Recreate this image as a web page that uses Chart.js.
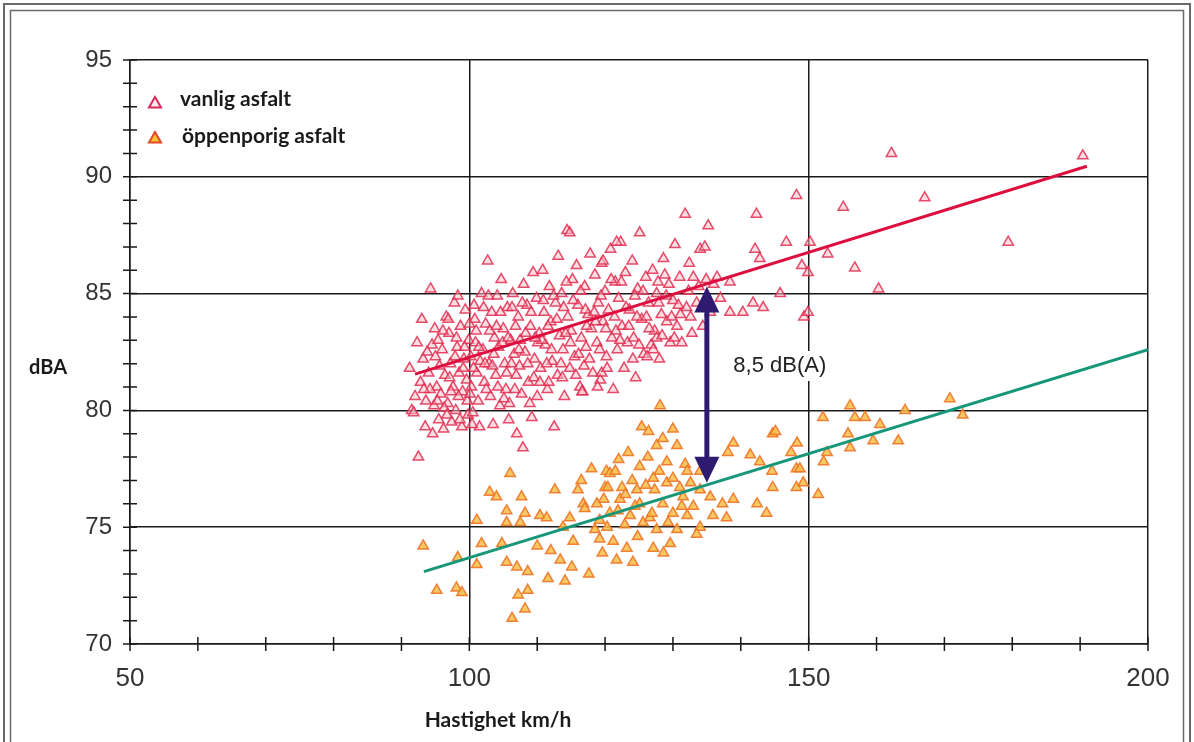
<!DOCTYPE html>
<html>
<head>
<meta charset="utf-8">
<script src="https://cdn.jsdelivr.net/npm/chart.js@4.4.1/dist/chart.umd.min.js"></script>
<style>
  html, body { margin: 0; padding: 0; background: #fff; }
</style>
</head>
<body>
<canvas id="myChart" width="1194" height="742"></canvas>
<script>
// axis ranges
var xRange = [50, 200]
var yRange = [70, 95]

// vanlig asfalt: [km/h, dBA]
var vanlig = [
  [91.2,81.8],[91.5,80.0],[91.8,79.9],[92.0,80.6],[92.5,78.0],[92.8,81.2],[93.0,83.9],[93.2,82.2],[93.5,79.3],[93.6,80.4],
  [94.0,81.6],[94.3,85.2],[94.5,82.8],[94.6,79.0],[94.8,80.2],[95.0,82.3],[95.2,81.0],[95.4,83.0],[95.5,79.6],[95.8,80.7],
  [96.0,82.6],[96.2,79.2],[96.4,81.5],[96.6,84.0],[96.8,80.3],[97.0,83.3],[97.2,82.0],[97.4,79.5],[97.6,81.0],[97.8,84.6],
  [98.0,80.0],[98.2,82.7],[98.3,84.9],[98.5,81.6],[98.7,83.6],[98.9,79.3],[99.0,80.8],[99.2,82.2],[99.4,84.3],[99.6,81.3],
  [99.8,79.8],[99.9,83.0],[93.8,82.5],[95.6,81.9],[96.3,80.1],[97.1,81.4],[97.9,82.3],[98.4,80.6],[99.1,81.8],[99.7,80.4],
  [94.2,80.9],[96.9,83.9],
  [100.0,83.7],[100.2,82.3],[100.3,81.0],[100.5,79.9],[100.7,84.5],[100.9,82.9],[101.1,81.6],[101.3,80.4],[101.5,79.3],[101.8,85.0],
  [102.0,82.6],[102.2,81.2],[102.4,83.7],[102.7,86.4],[102.9,82.0],[103.1,80.6],[103.3,84.2],[103.5,79.4],[103.7,83.1],[103.9,81.5],
  [104.1,84.9],[104.3,82.7],[104.5,80.2],[104.7,85.6],[105.0,83.5],[105.2,82.0],[105.4,80.9],[105.6,84.4],[105.9,80.3],[106.1,83.0],
  [106.4,85.0],[106.6,82.4],[106.9,81.5],[107.0,79.0],[107.2,84.0],[107.5,83.0],[107.7,80.7],[107.9,78.4],[108.0,85.4],[108.2,82.5],
  [108.5,84.5],[108.7,81.2],[109.0,83.6],[109.2,79.7],[109.4,85.9],[109.6,82.2],[109.9,84.8],[110.0,80.6],
  [100.6,81.8],[101.0,83.4],[101.6,82.1],[102.5,80.9],[103.0,83.4],[103.6,82.4],[104.2,81.0],[104.9,82.9],[105.5,81.6],[106.2,82.0],
  [106.8,83.6],[107.4,81.9],[108.3,83.3],[108.9,80.3],[109.5,81.4],[110.1,82.9],[105.8,79.6],[102.1,84.4],
  [110.3,83.3],[110.5,81.8],[110.8,86.0],[111.0,84.2],[111.2,82.8],[111.5,80.9],[111.8,85.3],[112.0,83.8],[112.2,82.1],[112.5,79.3],
  [112.7,84.6],[113.0,81.5],[113.1,86.6],[113.3,83.2],[113.6,85.0],[113.8,82.6],[114.0,80.6],[114.4,87.7],[114.5,84.0],[114.8,81.8],
  [115.0,83.4],[115.2,85.6],[115.5,82.3],[115.8,86.2],[116.0,84.5],[116.3,81.0],[116.5,83.1],[116.7,80.8],[117.0,85.3],[117.2,82.7],
  [117.5,84.1],[117.8,86.7],[118.0,83.5],[118.2,81.6],[118.5,85.8],[118.8,82.9],[119.0,84.6],[119.3,81.3],[119.5,86.3],[119.7,83.8],
  [120.0,85.1],[120.2,82.3],
  [110.7,83.0],[111.4,82.0],[112.4,84.9],[113.5,82.0],[114.2,83.3],[115.3,84.7],[116.1,82.4],[117.3,83.6],[118.4,84.2],[119.2,82.6],
  [120.1,83.5],[111.7,81.2],[113.9,84.4],[116.9,81.9],[118.9,81.0],
  [120.5,84.3],[120.8,86.9],[121.0,83.1],[121.2,80.9],[121.5,85.5],[121.8,82.6],[122.0,84.8],[122.3,87.2],[122.5,83.6],[122.8,81.8],
  [123.0,85.9],[123.3,82.9],[123.6,84.3],[124.0,86.4],[124.2,83.1],[124.5,81.4],[124.8,85.2],[125.1,87.6],[125.4,83.9],[125.7,82.4],
  [126.0,85.7],[126.2,82.3],[126.4,84.6],[126.8,82.8],[127.0,86.0],[127.3,83.4],[127.6,85.0],[127.6,83.1],[128.0,82.2],[128.3,84.1],
  [128.6,86.5],[128.8,85.8],[129.1,83.8],[129.4,85.4],[129.6,82.9],[130.0,84.7],[130.3,87.1],[130.6,83.6],[131.0,85.7],[131.3,82.9],
  [131.8,88.4],[132.0,84.4],[132.4,86.3],[132.8,83.3],[133.0,85.7],[133.5,84.6],[134.0,86.9],[134.4,83.6],[134.7,87.0],[135.2,87.9],
  [135.5,84.2],[136.0,85.4],[136.5,85.7],[137.0,84.8],
  [121.4,84.0],[122.2,83.0],[123.1,84.4],[124.4,84.9],[125.0,82.8],[126.5,83.5],[127.9,84.6],[129.8,84.0],[130.8,84.5],[132.3,85.1],
  [121.7,87.2],[119.7,86.4],[114.8,87.6],[116.6,80.8],[119.5,81.6],
  [95.3,80.4],[96.1,83.4],[97.3,80.8],[98.1,83.1],[99.3,82.7],[100.1,80.7],[100.8,83.9],[101.4,82.7],[102.3,82.0],[102.8,84.9],
  [103.4,81.9],[104.0,83.6],[104.6,84.2],[105.1,80.5],[105.7,83.1],[106.3,84.4],[106.7,80.9],[107.3,82.6],[107.8,84.6],[108.6,82.0],
  [109.1,84.2],[109.7,83.1],[110.4,81.2],[110.9,84.7],[111.6,83.6],[112.1,82.6],[112.9,83.9],[113.7,81.4],[114.3,85.5],[114.9,82.9],
  [115.7,81.5],[116.4,85.1],[117.1,84.3],[117.7,82.2],[118.6,83.8],[119.4,84.9],[120.3,81.8],[120.9,85.6],[121.6,83.4],[122.4,85.5],
  [123.5,83.6],[124.1,82.2],[124.7,84.0],[125.6,85.1],[126.1,84.0],[127.1,82.6],[127.8,85.5],[128.4,83.2],[129.0,84.9],[130.2,83.1],
  [131.1,84.1],[132.6,84.0],[133.8,85.3],[134.9,85.6],[92.3,82.9],[93.3,80.9],[94.9,83.5],[96.7,79.8],[98.6,79.6],[100.4,79.4],
  [138.4,84.2],[138.4,85.5],[140.3,84.2],[141.8,84.6],[142.1,86.9],[142.3,88.4],[142.8,86.5],[143.3,84.4],[145.8,85.0],[146.7,87.2],
  [148.2,89.2],[149.0,86.2],[149.3,84.0],[149.9,84.2],[149.9,85.9],[150.2,87.2],[152.8,86.7],[155.1,88.7],[156.8,86.1],[160.3,85.2],
  [162.2,91.0],[167.1,89.1],[179.4,87.2],[190.4,90.9]
]

// öppenporig asfalt: [km/h, dBA]
var oppenporig = [
  [93.2,74.2],[95.2,72.3],[98.1,72.4],[98.9,72.2],[98.3,73.7],[101.1,75.3],[101.8,74.3],[101.1,73.4],[103.0,76.5],[104.0,76.3],
  [104.8,74.3],[105.5,75.7],[105.5,75.2],[105.5,73.5],[106.0,77.3],[106.3,71.1],[107.0,73.3],[107.2,72.1],[107.5,75.2],[107.7,76.3],
  [108.2,75.6],[108.2,71.5],[108.6,73.1],[108.6,72.3],[110.0,74.2],[110.4,75.5],[111.4,75.4],[111.6,72.8],[112.6,76.6],[113.4,73.6],
  [114.1,72.7],[114.8,75.4],[115.1,73.3],[115.3,74.4],[116.0,76.6],[116.5,77.0],[116.8,76.0],[118.0,77.5],[118.8,76.0],[119.2,75.3],
  [119.2,74.5],[120.0,76.7],[120.2,77.4],[120.3,75.0],[120.4,76.7],[120.7,77.3],[120.7,75.6],[121.2,74.4],[121.5,77.4],[121.7,73.6],
  [122.2,76.2],[122.5,76.7],[122.9,75.1],[123.4,78.2],[123.7,75.5],[124.0,77.0],[124.1,73.5],[124.7,76.6],[124.8,74.6],[125.1,77.6],
  [125.1,76.0],[125.4,79.3],[125.6,75.2],[126.4,79.1],[126.6,75.4],[127.1,77.1],[127.1,74.1],[127.3,76.6],[127.6,78.5],[127.6,74.9],
  [128.1,80.2],[128.5,78.8],[128.5,76.0],[128.6,73.9],[129.1,77.8],[129.1,76.9],[129.6,74.3],[130.0,79.2],[130.0,77.1],[130.0,75.6],
  [130.6,78.5],[130.6,74.9],[131.0,76.7],[131.5,76.3],[131.8,77.7],[132.1,77.4],[132.1,75.5],[133.0,75.9],[134.0,77.4],[134.0,76.6],
  [134.0,75.0],[135.5,76.3],[135.9,75.5],[137.3,76.0],[137.9,75.4],[138.1,78.2],[138.9,78.6],[138.9,76.2],[141.4,78.1],[142.4,76.0],
  [142.8,77.8],[143.8,75.6],[144.6,77.4],[144.7,76.7],[144.7,79.0],[145.1,79.1],[147.4,78.2],[148.3,78.6],[148.2,77.5],[148.2,76.7],
  [148.7,77.5],[149.2,76.9],[151.4,76.4],[152.1,79.7],[152.2,77.8],[152.7,78.2],[155.8,79.0],[156.1,80.2],[156.1,78.4],[156.8,79.7],
  [158.3,79.7],[159.5,78.7],[160.5,79.4],[163.2,78.7],[164.2,80.0],[170.8,80.5],[172.7,79.8],
  [117.0,75.8],[118.5,74.9],[119.8,76.2],[121.9,75.7],[123.0,76.4],[124.4,75.9],[126.0,76.8],[126.9,75.6],[128.0,77.4],[129.3,75.2],
  [131.3,75.9],[132.6,76.9],[133.5,74.7],[123.2,74.1],[122.0,77.9],[126.3,78.0],[117.6,73.0],[119.6,73.9],[113.8,75.0],[112.0,74.0]
]

// regression lines (end points)
var vanligFitKmh = [92.0, 191.0]
var vanligFitDb = [81.55, 90.45]
var oppenFitKmh = [93.3, 200.0]
var oppenFitDb = [73.1, 82.6]

// difference arrow + its label
var arrowKmh = 135
var arrowDb = [85.3, 76.9]
var arrowText = '8,5 dB(A)'
var arrowTextPos = [138.9, 81.9]

function toPoints(list){
  var out = []
  for (let i = 0; i < list.length; i++){
    out.push({x: list[i][0], y: list[i][1]})
  }
  return out
}
function fitPoints(xs, ys){
  return [{x: xs[0], y: ys[0]}, {x: xs[1], y: ys[1]}]
}

function triangle(c, x, y, r){
  c.beginPath()
  c.moveTo(x, y - r)
  c.lineTo(x + r * 0.866, y + r * 0.5)
  c.lineTo(x - r * 0.866, y + r * 0.5)
  c.closePath()
}

// frame, axis ticks, titles, legend, arrow
const decor = {
  id: 'decor',
  beforeDraw(chart){
    const c = chart.ctx
    c.save()
    c.fillStyle = '#fff'
    c.fillRect(0, 0, chart.width, chart.height)
    c.strokeStyle = '#6a6a6a'
    c.lineWidth = 2
    c.strokeRect(4, 4, 1186, 760)
    c.lineWidth = 1.5
    c.strokeRect(10.5, 10.5, 1173, 760)
    c.restore()
  },
  afterDatasetsDraw(chart){
    const c = chart.ctx
    const xs = chart.scales.x, ys = chart.scales.y
    const x = xs.getPixelForValue(arrowKmh)
    const y1 = ys.getPixelForValue(arrowDb[0])
    const y2 = ys.getPixelForValue(arrowDb[1])
    c.save()
    // label with white box (it breaks the gridline)
    c.font = '22px "Liberation Sans", Arial, sans-serif'
    c.textBaseline = 'middle'
    c.textAlign = 'left'
    const tx = xs.getPixelForValue(arrowTextPos[0]), ty = ys.getPixelForValue(arrowTextPos[1])
    const w = c.measureText(arrowText).width
    c.fillStyle = '#fff'
    c.fillRect(tx - 2, ty - 15, w + 4, 30)
    c.fillStyle = '#222'
    c.fillText(arrowText, tx, ty)
    // arrow
    c.strokeStyle = '#2e1a6e'
    c.fillStyle = '#2e1a6e'
    c.lineWidth = 5
    c.beginPath()
    c.moveTo(x, y1 + 20)
    c.lineTo(x, y2 - 20)
    c.stroke()
    c.beginPath()
    c.moveTo(x, y1); c.lineTo(x - 12.5, y1 + 26); c.lineTo(x + 12.5, y1 + 26)
    c.closePath(); c.fill()
    c.beginPath()
    c.moveTo(x, y2); c.lineTo(x - 12.5, y2 - 26); c.lineTo(x + 12.5, y2 - 26)
    c.closePath(); c.fill()
    c.restore()
  },
  afterDraw(chart){
    const c = chart.ctx
    const xs = chart.scales.x, ys = chart.scales.y
    const area = chart.chartArea
    c.save()
    // tick marks crossing the axes
    c.strokeStyle = '#1a1a1a'
    c.lineWidth = 1.5
    c.beginPath()
    for (let v = xRange[0]; v <= xRange[1]; v += 10){
      const px = xs.getPixelForValue(v)
      c.moveTo(px, area.bottom - 7)
      c.lineTo(px, area.bottom + 7)
    }
    for (let v = yRange[0]; v <= yRange[1]; v += 1){
      const py = ys.getPixelForValue(v)
      c.moveTo(area.left - 7, py)
      c.lineTo(area.left + 7, py)
    }
    c.stroke()
    // axis titles
    c.fillStyle = '#1a1a1a'
    c.font = 'bold 20px Lato, "Open Sans", sans-serif'
    c.textBaseline = 'middle'
    c.textAlign = 'left'
    c.fillText('dBA', 29, 368)
    c.font = 'bold 21px Lato, "Open Sans", sans-serif'
    c.textAlign = 'center'
    c.fillText('Hastighet km/h', 498, 720)
    // legend
    c.lineWidth = 2
    triangle(c, 155, 104, 7)
    c.fillStyle = '#ffe9ee'
    c.fill()
    c.strokeStyle = '#d82a58'
    c.stroke()
    triangle(c, 155, 139, 7)
    c.fillStyle = '#f6c230'
    c.fill()
    c.strokeStyle = '#e2492a'
    c.stroke()
    c.fillStyle = '#1a1a1a'
    c.font = 'bold 21px Lato, "Open Sans", sans-serif'
    c.textAlign = 'left'
    c.fillText('vanlig asfalt', 180, 99)
    c.fillText('öppenporig asfalt', 182, 136)
    c.restore()
  }
}

const ctx = document.getElementById('myChart')
new Chart(ctx, {
  type: 'scatter',
  data: {
    datasets: [
      {
        label: 'vanlig asfalt',
        data: toPoints(vanlig),
        pointStyle: 'triangle',
        pointRadius: 6,
        borderWidth: 1.5,
        borderColor: 'rgba(225,45,80,0.85)',
        backgroundColor: 'rgba(250,190,200,0.5)',
        order: 4
      },
      {
        label: 'öppenporig asfalt',
        data: toPoints(oppenporig),
        pointStyle: 'triangle',
        pointRadius: 6,
        borderWidth: 1.5,
        borderColor: 'rgba(236,118,40,0.9)',
        backgroundColor: 'rgba(248,190,70,0.85)',
        order: 3
      },
      {
        type: 'line',
        data: fitPoints(vanligFitKmh, vanligFitDb),
        borderColor: '#dc0f3f',
        borderWidth: 3,
        pointRadius: 0,
        order: 2
      },
      {
        type: 'line',
        data: fitPoints(oppenFitKmh, oppenFitDb),
        borderColor: '#17977a',
        borderWidth: 3,
        pointRadius: 0,
        order: 1
      }
    ]
  },
  options: {
    responsive: false,
    animation: false,
    layout: { padding: { left: 0, top: 60, right: 46, bottom: 0 } },
    plugins: { legend: { display: false }, tooltip: { enabled: false } },
    scales: {
      x: {
        type: 'linear',
        min: xRange[0],
        max: xRange[1],
        afterFit: function(s){ s.height = 98 },
        border: { color: '#1a1a1a', width: 1.5 },
        grid: {
          drawTicks: false,
          lineWidth: 1.5,
          color: function(c){ return c.tick && c.tick.value % 50 === 0 ? '#1a1a1a' : 'rgba(0,0,0,0)' }
        },
        ticks: {
          stepSize: 10,
          autoSkip: false,
          maxRotation: 0,
          padding: 19,
          color: '#333',
          font: { family: '"Liberation Sans", Arial, sans-serif', size: 26 },
          callback: function(v){ return v % 50 === 0 ? v : '' }
        }
      },
      y: {
        min: yRange[0],
        max: yRange[1],
        afterFit: function(s){ s.width = 130 },
        border: { color: '#1a1a1a', width: 1.5 },
        grid: {
          drawTicks: false,
          lineWidth: 1.5,
          color: function(c){ return c.tick && c.tick.value % 5 === 0 ? '#1a1a1a' : 'rgba(0,0,0,0)' }
        },
        ticks: {
          stepSize: 1,
          autoSkip: false,
          padding: 18,
          color: '#333',
          font: { family: '"Liberation Sans", Arial, sans-serif', size: 24 },
          callback: function(v){ return v % 5 === 0 ? v : '' }
        }
      }
    }
  },
  plugins: [decor]
})
</script>
</body>
</html>
